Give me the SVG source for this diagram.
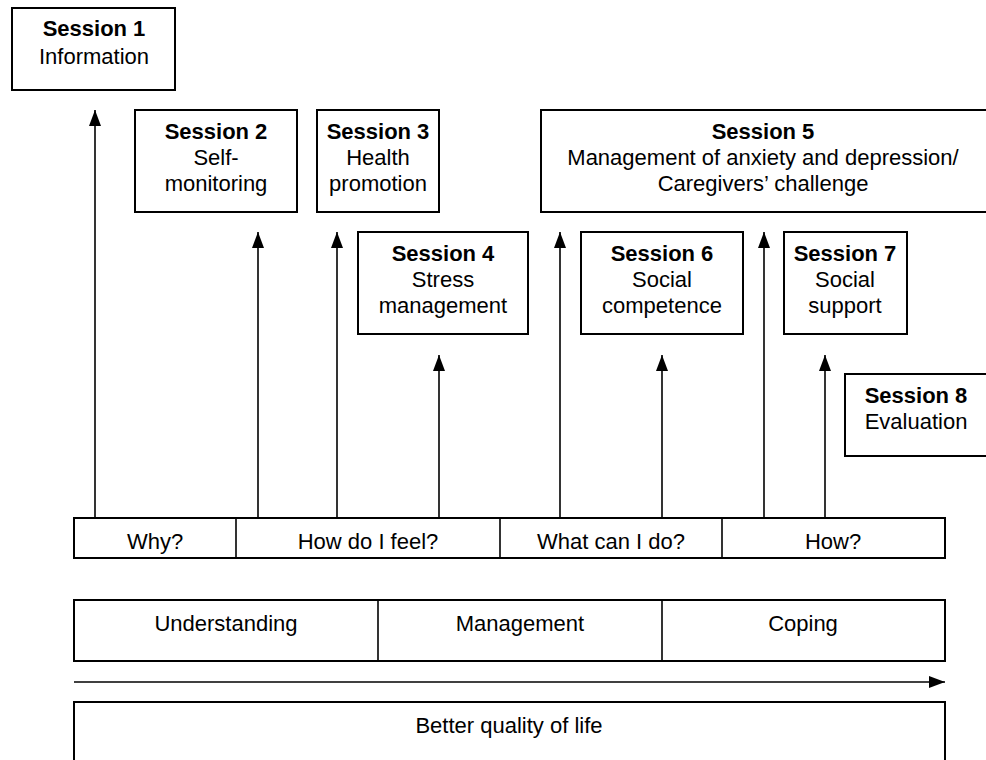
<svg xmlns="http://www.w3.org/2000/svg" width="986" height="760" viewBox="0 0 986 760">
<defs>
<style>
.box{fill:#fff;stroke:#000;stroke-width:2}
.ln{stroke:#000;stroke-width:1.6;fill:none}
text{font-family:"Liberation Sans",Arial,sans-serif;font-size:22px;fill:#000;text-anchor:middle}
.b{font-weight:bold}
</style>
<marker id="ah" markerUnits="userSpaceOnUse" markerWidth="16" markerHeight="14" refX="16" refY="7" orient="auto">
<path d="M0,1 L16,7 L0,13 z" fill="#000"/>
</marker>
</defs>
<rect width="986" height="760" fill="#fff"/>
<g id="connectors">
<line class="ln" x1="95" y1="518" x2="95" y2="110" marker-end="url(#ah)"/>
<line class="ln" x1="258" y1="518" x2="258" y2="232" marker-end="url(#ah)"/>
<line class="ln" x1="337" y1="518" x2="337" y2="232" marker-end="url(#ah)"/>
<line class="ln" x1="439" y1="518" x2="439" y2="355" marker-end="url(#ah)"/>
<line class="ln" x1="560" y1="518" x2="560" y2="232" marker-end="url(#ah)"/>
<line class="ln" x1="662" y1="518" x2="662" y2="355" marker-end="url(#ah)"/>
<line class="ln" x1="764" y1="518" x2="764" y2="232" marker-end="url(#ah)"/>
<line class="ln" x1="825" y1="518" x2="825" y2="355" marker-end="url(#ah)"/>
<line class="ln" x1="74" y1="682" x2="945" y2="682" marker-end="url(#ah)"/>
</g>
<g id="s1"><rect class="box" x="12" y="8" width="163" height="82"/><text x="94" y="36" class="b">Session 1</text><text x="94" y="64">Information</text></g>
<g id="s2"><rect class="box" x="135" y="110" width="162" height="102"/><text x="216" y="139" class="b">Session 2</text><text x="216" y="165">Self-</text><text x="216" y="191">monitoring</text></g>
<g id="s3"><rect class="box" x="317" y="110" width="122" height="102"/><text x="378" y="139" class="b">Session 3</text><text x="378" y="165">Health</text><text x="378" y="191">promotion</text></g>
<g id="s5"><rect class="box" x="541" y="110" width="448" height="102"/><text x="763" y="139" class="b">Session 5</text><text x="763" y="165">Management of anxiety and depression/</text><text x="763" y="191">Caregivers’ challenge</text></g>
<g id="s4"><rect class="box" x="358" y="232" width="170" height="102"/><text x="443" y="261" class="b">Session 4</text><text x="443" y="287">Stress</text><text x="443" y="313">management</text></g>
<g id="s6"><rect class="box" x="581" y="232" width="162" height="102"/><text x="662" y="261" class="b">Session 6</text><text x="662" y="287">Social</text><text x="662" y="313">competence</text></g>
<g id="s7"><rect class="box" x="784" y="232" width="123" height="102"/><text x="845" y="261" class="b">Session 7</text><text x="845" y="287">Social</text><text x="845" y="313">support</text></g>
<g id="s8"><rect class="box" x="845" y="374" width="144" height="82"/><text x="916" y="403" class="b">Session 8</text><text x="916" y="429">Evaluation</text></g>
<g id="questions">
<rect class="box" x="74" y="518" width="871" height="40"/>
<line class="ln" x1="236" y1="518" x2="236" y2="558"/>
<line class="ln" x1="500" y1="518" x2="500" y2="558"/>
<line class="ln" x1="722" y1="518" x2="722" y2="558"/>
<text x="155" y="549">Why?</text>
<text x="368" y="549">How do I feel?</text>
<text x="611" y="549">What can I do?</text>
<text x="833" y="549">How?</text>
</g>
<g id="phases">
<rect class="box" x="74" y="600" width="871" height="61"/>
<line class="ln" x1="378" y1="600" x2="378" y2="661"/>
<line class="ln" x1="662" y1="600" x2="662" y2="661"/>
<text x="226" y="631">Understanding</text>
<text x="520" y="631">Management</text>
<text x="803" y="631">Coping</text>
</g>
<g id="outcome">
<rect class="box" x="74" y="702" width="871" height="70"/>
<text x="509" y="733">Better quality of life</text>
</g>
</svg>
